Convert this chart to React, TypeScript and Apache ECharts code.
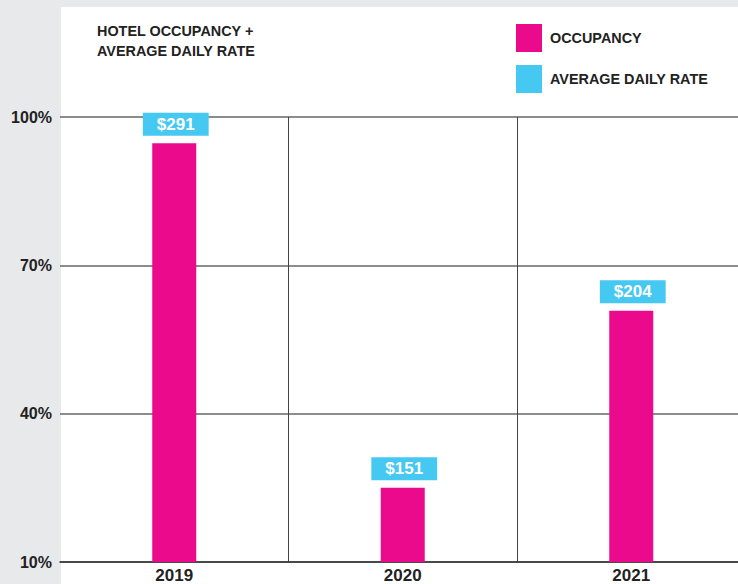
import React, { useEffect, useRef } from "react";
import * as echarts from "echarts";

const years = ["2019", "2020", "2021"];
const occupancy = [94.7, 25, 60.8];
const adr = [291, 151, 204];
const yMin = 10;
const yMax = 100;
const yStep = 30;

const PINK = "#ec0a8c";
const BLUE = "#45c8f2";
const INK = "#222222";
const SANS = "'Liberation Sans', Arial, sans-serif";

export default function App() {
  const ref = useRef<HTMLDivElement>(null);
  useEffect(() => {
    if (!ref.current) return;
    const chart = echarts.init(ref.current, undefined, { renderer: "svg" });
    chart.setOption({
      animation: false,
      backgroundColor: "#e8e9eb",
      graphic: [
        {
          type: "rect",
          z: -1,
          shape: { x: 61, y: 7, width: 720, height: 620 },
          style: { fill: "#ffffff" },
          silent: true,
        },
      ],
      title: {
        text: "HOTEL OCCUPANCY +\nAVERAGE DAILY RATE",
        left: 97,
        top: 21,
        padding: 0,
        textStyle: {
          fontFamily: SANS,
          fontSize: 14.4,
          lineHeight: 20,
          fontWeight: "bold",
          color: INK,
        },
      },
      legend: {
        orient: "vertical",
        left: 516,
        top: 24,
        padding: 0,
        icon: "rect",
        itemWidth: 26,
        itemHeight: 28,
        itemGap: 13,
        selectedMode: false,
        data: ["OCCUPANCY", "AVERAGE DAILY RATE"],
        textStyle: {
          fontFamily: SANS,
          fontSize: 14.4,
          fontWeight: "bold",
          color: INK,
          padding: [2, 0, 0, 3],
        },
      },
      grid: { left: 60, width: 685.5, top: 117, height: 445, containLabel: false },
      xAxis: {
        type: "category",
        data: years,
        boundaryGap: true,
        axisLine: { show: true, lineStyle: { color: "#333", width: 1.5 } },
        axisTick: { show: false },
        axisLabel: {
          margin: 5,
          fontFamily: SANS,
          fontSize: 17,
          fontWeight: "bold",
          color: INK,
        },
        splitLine: {
          show: true,
          interval: (i: number) => i > 0,
          lineStyle: { color: "#444", width: 1 },
        },
      },
      yAxis: {
        type: "value",
        min: 0,
        max: yMax - yMin,
        interval: yStep,
        axisLine: { show: false },
        axisTick: { show: false },
        axisLabel: {
          margin: 8,
          fontFamily: SANS,
          fontSize: 16,
          fontWeight: "bold",
          color: INK,
          formatter: (v: number) => `${v + yMin}%`,
        },
        splitLine: { show: true, lineStyle: { color: "#666", width: 1.5 } },
      },
      series: [
        {
          name: "OCCUPANCY",
          type: "bar",
          barWidth: 44,
          itemStyle: { color: PINK },
          data: occupancy.map((v) => v - yMin),
          label: {
            show: true,
            position: "top",
            distance: 7.5,
            offset: [1.5, 0],
            formatter: (p: any) => `$${adr[p.dataIndex]}`,
            backgroundColor: BLUE,
            color: "#ffffff",
            fontFamily: SANS,
            fontWeight: "bold",
            fontSize: 17,
            lineHeight: 17,
            padding: [3, 14, 3, 14],
          },
        },
        {
          name: "AVERAGE DAILY RATE",
          type: "line",
          itemStyle: { color: BLUE },
          lineStyle: { color: BLUE },
          data: [],
        },
      ],
    });
    return () => chart.dispose();
  }, []);
  return (
    <div style={{ position: "fixed", left: 0, top: 0, width: 738, height: 584, overflow: "hidden" }}>
      <div ref={ref} style={{ width: 770, height: 610 }} />
    </div>
  );
}
